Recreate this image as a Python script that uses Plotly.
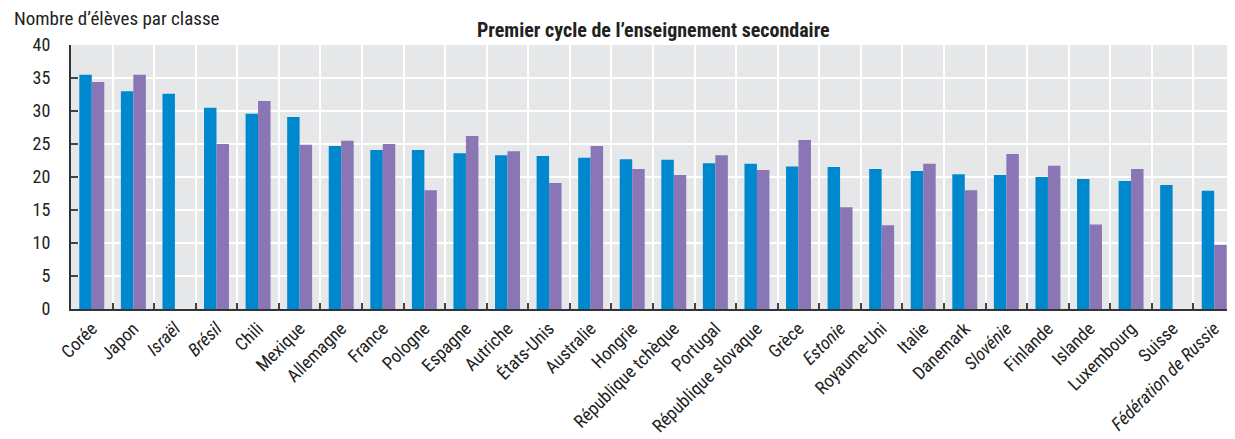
import plotly.graph_objects as go

countries = ["Corée", "Japon", "<i>Israël</i>", "<i>Brésil</i>", "Chili", "Mexique", "Allemagne",
             "France", "Pologne", "Espagne", "Autriche", "États-Unis", "Australie", "Hongrie",
             "République tchèque", "Portugal", "République slovaque", "Grèce", "<i>Estonie</i>",
             "Royaume-Uni", "Italie", "Danemark", "<i>Slovénie</i>", "Finlande", "Islande",
             "Luxembourg", "Suisse", "<i>Fédération de Russie</i>"]

public_vals = [35.5, 33.0, 32.6, 30.5, 29.6, 29.1, 24.7, 24.1, 24.1, 23.6, 23.3, 23.2, 22.9, 22.7,
               22.6, 22.1, 22.0, 21.6, 21.5, 21.2, 20.9, 20.4, 20.3, 20.0, 19.7, 19.4, 18.8, 17.9]
private_vals = [34.4, 35.5, None, 25.0, 31.5, 24.9, 25.5, 25.0, 18.0, 26.2, 23.9, 19.1, 24.7, 21.2,
                20.3, 23.3, 21.05, 25.6, 15.4, 12.7, 22.0, 18.0, 23.5, 21.7, 12.8, 21.2, None, 9.7]

title_text = "<b>Premier cycle de l’enseignement secondaire</b>"
ytitle_text = "Nombre d’élèves par classe"
yticks = [0, 5, 10, 15, 20, 25, 30, 35, 40]

FONT = "Liberation Sans Narrow, Arial Narrow, Roboto Condensed, Liberation Sans, sans-serif"

fig = go.Figure()
fig.add_trace(go.Bar(x=countries, y=public_vals, name="Établissements publics",
                     marker=dict(color="#0088cf", line=dict(width=0))))
fig.add_trace(go.Bar(x=countries, y=private_vals, name="Établissements privés",
                     marker=dict(color="#8a75b5", line=dict(width=0))))

fig.update_layout(
    width=1227, height=431,
    margin=dict(l=63, r=0, t=37, b=130, autoexpand=False),
    barmode="group", bargap=0.4, bargroupgap=0,
    showlegend=False,
    plot_bgcolor="#e6e7e9", paper_bgcolor="white",
    font=dict(family=FONT, size=17, color="#222222"),
)
fig.update_xaxes(
    type="category", tickson="boundaries", showgrid=True, gridcolor="white", gridwidth=2,
    ticks="inside", ticklen=6, tickcolor="#444444", tickwidth=2,
    showline=True, linecolor="#333333", linewidth=2, automargin=False,
    tickangle=-45, tickfont=dict(size=18, family=FONT, color="#222222"),
)
fig.update_yaxes(
    range=[0, 40], tickvals=yticks, showgrid=True, gridcolor="white", gridwidth=2,
    showline=True, linecolor="#333333", linewidth=2, zeroline=False, automargin=False,
    ticks="inside", ticklen=7, tickcolor="#444444", tickwidth=1.5,
    ticklabelstandoff=15,
    tickfont=dict(size=18, family=FONT, color="#222222"),
)
fig.add_annotation(text=title_text, xref="paper", yref="paper", x=0.5, y=1, yshift=15,
                   xanchor="center", yanchor="middle", showarrow=False,
                   font=dict(size=20, family=FONT, color="#222222"))
fig.add_annotation(text=ytitle_text, xref="paper", yref="paper", x=0, y=1, xshift=-59, yshift=27,
                   xanchor="left", yanchor="middle", showarrow=False,
                   font=dict(size=19, family=FONT, color="#222222"))

fig.write_html("out.html")
